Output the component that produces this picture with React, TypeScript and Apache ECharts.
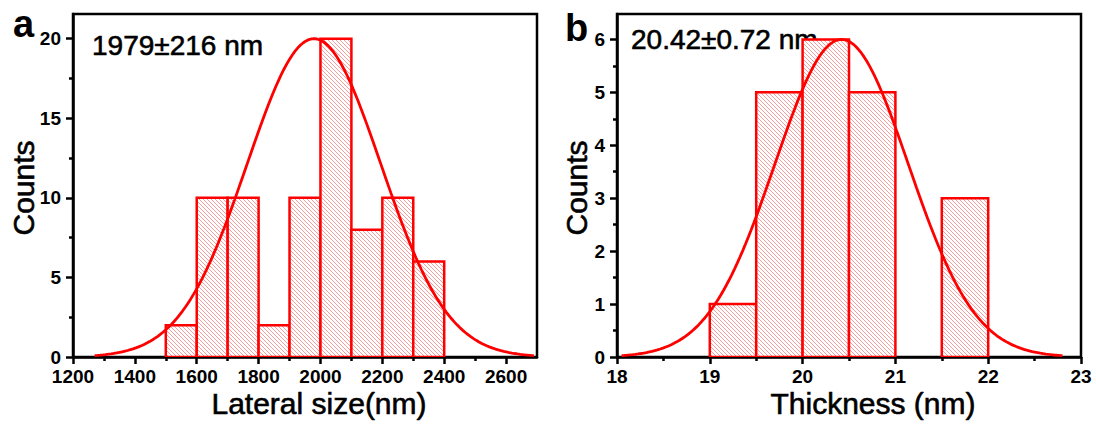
import { useEffect, useRef } from "react";
import * as echarts from "echarts";

// Panel a: lateral size histogram (bin starts in nm, bin width 100 nm)
const lateralBinStarts = [1500, 1600, 1700, 1800, 1900, 2000, 2100, 2200, 2300];
const lateralCounts = [2, 10, 10, 2, 10, 20, 8, 10, 6];
const lateralBinWidth = 100;
// Gaussian fit: mean ± sd (nm), peak height in counts, drawn range
const lateralFit = { mean: 1979, sd: 216, peak: 20, from: 1270, to: 2690 };

// Panel b: thickness histogram (bin starts in nm, bin width 0.5 nm)
const thicknessBinStarts = [19, 19.5, 20, 20.5, 21.5];
const thicknessCounts = [1, 5, 6, 5, 3];
const thicknessBinWidth = 0.5;
const thicknessFit = { mean: 20.42, sd: 0.72, peak: 6, from: 18.05, to: 22.8 };

// Tick values
const lateralMajorTicks = [1200, 1400, 1600, 1800, 2000, 2200, 2400, 2600];
const lateralMinorTicks = [1300, 1500, 1700, 1900, 2100, 2300, 2500];
const countsMajorTicksA = [0, 5, 10, 15, 20];
const countsMinorTicksA = [2.5, 7.5, 12.5, 17.5];
const thicknessMajorTicks = [18, 19, 20, 21, 22, 23];
const thicknessMinorTicks = [18.5, 19.5, 20.5, 21.5, 22.5];
const countsMajorTicksB = [0, 1, 2, 3, 4, 5, 6];
const countsMinorTicksB = [0.5, 1.5, 2.5, 3.5, 4.5, 5.5];

const RED = "#ff0000";
const FONT = "'Liberation Sans', Arial, Helvetica, sans-serif";

function fitCurve(fit: { mean: number; sd: number; peak: number; from: number; to: number }) {
  const pts: number[][] = [];
  const n = 160;
  for (let i = 0; i <= n; i++) {
    const x = fit.from + ((fit.to - fit.from) * i) / n;
    const y = fit.peak * Math.exp(-((x - fit.mean) ** 2) / (2 * fit.sd * fit.sd));
    pts.push([x, y]);
  }
  return pts;
}

// Diagonal "\" hatch tile used to fill the histogram bars
function makeHatch() {
  const c = document.createElement("canvas");
  c.width = 4;
  c.height = 4;
  const ctx = c.getContext("2d")!;
  ctx.fillStyle = "#ffffff";
  ctx.fillRect(0, 0, 4, 4);
  ctx.fillStyle = "rgba(238,60,60,0.5)";
  for (let i = 0; i < 4; i++) ctx.fillRect(i, i, 1, 1);
  return c;
}

function valueAxis(
  gridIndex: number,
  min: number,
  max: number,
  major: number[],
  minor: number[],
  isX: boolean
) {
  const common = {
    type: "value" as const,
    gridIndex,
    min,
    max,
    position: isX ? "bottom" : "left",
    splitLine: { show: false },
  };
  return [
    {
      ...common,
      axisLine: { show: true, onZero: false, lineStyle: { color: "#000", width: 2.5 } },
      axisTick: {
        show: true,
        inside: false,
        length: 7,
        customValues: major,
        lineStyle: { color: "#000", width: 2.5 },
      },
      axisLabel: {
        show: true,
        customValues: major,
        margin: isX ? 10 : 12,
        color: "#000",
        fontSize: 19,
        fontWeight: "bold",
        fontFamily: FONT,
        formatter: (v: number) => String(v),
      },
    },
    {
      ...common,
      axisLine: { show: false, onZero: false },
      axisTick: {
        show: true,
        inside: false,
        length: 4,
        customValues: minor,
        lineStyle: { color: "#000", width: 2.5 },
      },
      axisLabel: { show: false },
    },
  ];
}

function histogramSeries(
  starts: number[],
  counts: number[],
  width: number,
  axisIndex: number,
  fill: any
) {
  return {
    type: "custom",
    xAxisIndex: axisIndex,
    yAxisIndex: axisIndex,
    z: 2,
    clip: true,
    data: starts.map((s, i) => [s, s + width, counts[i]]),
    renderItem: (_params: any, api: any) => {
      const topLeft = api.coord([api.value(0), api.value(2)]);
      const bottomRight = api.coord([api.value(1), 0]);
      return {
        type: "rect",
        shape: {
          x: topLeft[0],
          y: topLeft[1],
          width: bottomRight[0] - topLeft[0],
          height: bottomRight[1] - topLeft[1],
        },
        style: { fill, stroke: RED, lineWidth: 2.5 },
      };
    },
  };
}

function curveSeries(points: number[][], axisIndex: number) {
  return {
    type: "line",
    xAxisIndex: axisIndex,
    yAxisIndex: axisIndex,
    z: 5,
    data: points,
    showSymbol: false,
    symbol: "none",
    smooth: false,
    lineStyle: { color: RED, width: 2.8 },
  };
}

export default function App() {
  const ref = useRef<HTMLDivElement>(null);

  useEffect(() => {
    if (!ref.current) return;
    const chart = echarts.init(ref.current, undefined, { renderer: "svg" });
    const hatch = makeHatch();
    const fill = { image: hatch, repeat: "repeat", imageWidth: 4, imageHeight: 4 };

    const xA = valueAxis(0, 1200, 2700, lateralMajorTicks, lateralMinorTicks, true);
    const yA = valueAxis(0, 0, 21.55, countsMajorTicksA, countsMinorTicksA, false);
    const xB = valueAxis(1, 18, 23, thicknessMajorTicks, thicknessMinorTicks, true);
    const yB = valueAxis(1, 0, 6.48, countsMajorTicksB, countsMinorTicksB, false);

    // Slight outline gives the titles a heavier stroke
    const heavy = { fill: "#000", stroke: "#000", lineWidth: 0.6, fontFamily: FONT };
    const titleStyle = { fontSize: 30, ...heavy };

    chart.setOption({
      animation: false,
      backgroundColor: "#fff",
      grid: [
        { left: 73, top: 14, width: 464, height: 343, show: true, borderColor: "#000", borderWidth: 2.5, backgroundColor: "transparent" },
        { left: 617, top: 14, width: 464, height: 343, show: true, borderColor: "#000", borderWidth: 2.5, backgroundColor: "transparent" },
      ],
      xAxis: [...xA, ...xB],
      yAxis: [...yA, ...yB],
      series: [
        histogramSeries(lateralBinStarts, lateralCounts, lateralBinWidth, 0, fill),
        curveSeries(fitCurve(lateralFit), 0),
        histogramSeries(thicknessBinStarts, thicknessCounts, thicknessBinWidth, 2, fill),
        curveSeries(fitCurve(thicknessFit), 2),
      ],
      graphic: [
        { type: "text", x: 13, y: 24, style: { text: "a", fontSize: 38, fontWeight: "bold", fontFamily: FONT, fill: "#000", align: "left", verticalAlign: "middle" } },
        { type: "text", x: 565, y: 28, style: { text: "b", fontSize: 38, fontWeight: "bold", fontFamily: FONT, fill: "#000", align: "left", verticalAlign: "middle" } },
        { type: "text", x: 92, y: 45, style: { text: "1979±216 nm", fontSize: 28, ...heavy, align: "left", verticalAlign: "middle" } },
        { type: "text", x: 631, y: 39, style: { text: "20.42±0.72 nm", fontSize: 28, ...heavy, align: "left", verticalAlign: "middle" } },
        { type: "text", x: 319, y: 403, style: { text: "Lateral size(nm)", ...titleStyle, align: "center", verticalAlign: "middle" } },
        { type: "text", x: 873, y: 403, style: { text: "Thickness (nm)", ...titleStyle, align: "center", verticalAlign: "middle" } },
        { type: "text", x: 23, y: 188, rotation: Math.PI / 2, style: { text: "Counts", ...titleStyle, align: "center", verticalAlign: "middle" } },
        { type: "text", x: 576, y: 188, rotation: Math.PI / 2, style: { text: "Counts", ...titleStyle, align: "center", verticalAlign: "middle" } },
      ],
    });

    return () => chart.dispose();
  }, []);

  return (
    <div
      ref={ref}
      style={{ position: "fixed", left: 0, top: 0, width: 1096, height: 425, background: "#fff" }}
    />
  );
}
